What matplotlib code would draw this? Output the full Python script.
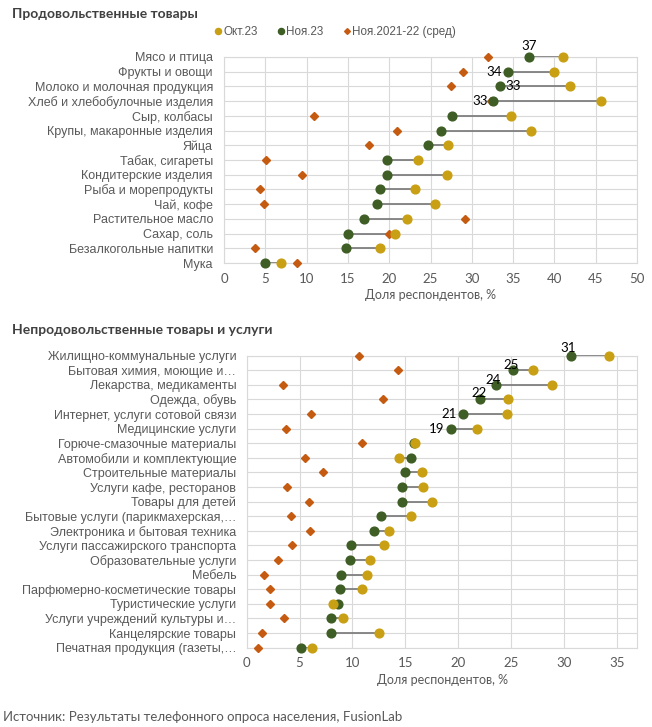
import numpy as np
import matplotlib.pyplot as plt

plt.rcParams['font.family'] = ['Liberation Sans', 'DejaVu Sans']

# Data - food
food_cats = ['Мясо и птица', 'Фрукты и овощи', 'Молоко и молочная продукция',
             'Хлеб и хлебобулочные изделия', 'Сыр, колбасы', 'Крупы, макаронные изделия',
             'Яйца', 'Табак, сигареты', 'Кондитерские изделия', 'Рыба и морепродукты',
             'Чай, кофе', 'Растительное масло', 'Сахар, соль', 'Безалкогольные напитки', 'Мука']
food_oct = [41.1, 40.0, 41.9, 45.6, 34.7, 37.2, 27.1, 23.5, 27.0, 23.1, 25.6, 22.1, 20.7, 18.9, 6.9]
food_nov = [36.9, 34.4, 33.4, 32.6, 27.6, 26.3, 24.7, 19.7, 19.7, 18.9, 18.5, 17.0, 15.0, 14.8, 5.0]
food_avg = [31.9, 28.9, 27.5, 32.3, 10.9, 20.9, 17.5, 5.1, 9.5, 4.3, 4.9, 29.2, 20.0, 3.8, 8.8]

# Data - non-food
nf_cats = ['Жилищно-коммунальные услуги', 'Бытовая химия, моющие и…', 'Лекарства, медикаменты',
           'Одежда, обувь', 'Интернет, услуги сотовой связи', 'Медицинские услуги',
           'Горюче-смазочные материалы', 'Автомобили и комплектующие', 'Строительные материалы',
           'Услуги кафе, ресторанов', 'Товары для детей', 'Бытовые услуги (парикмахерская,…',
           'Электроника и бытовая техника', 'Услуги пассажирского транспорта',
           'Образовательные услуги', 'Мебель', 'Парфюмерно-косметические товары',
           'Туристические услуги', 'Услуги учреждений культуры и…', 'Канцелярские товары',
           'Печатная продукция (газеты,…']
nf_oct = [34.3, 27.1, 28.9, 24.7, 24.6, 21.8, 15.9, 14.4, 16.6, 16.7, 17.5, 15.5, 13.5, 13.0,
          11.7, 11.4, 10.9, 8.2, 9.1, 12.5, 6.2]
nf_nov = [30.7, 25.2, 23.6, 22.1, 20.5, 19.3, 15.8, 15.5, 15.0, 14.7, 14.7, 12.7, 12.0, 9.9,
          9.8, 8.9, 8.8, 8.6, 8.0, 8.0, 5.1]
nf_avg = [10.6, 14.3, 3.4, 12.9, 6.1, 3.7, 10.9, 5.5, 7.2, 3.8, 5.9, 4.2, 6.0, 4.3, 3.0, 1.6,
          2.2, 2.2, 3.5, 1.4, 1.1]

# labels on Nov points: (row, text, dx px, dy px)
food_labels = [(0, '37', 0, 11), (1, '34', -14, 0), (2, '33', 13, 0), (3, '33', -13, 0)]
nf_labels = [(0, '31', -3, 8), (1, '25', -2, 5), (2, '24', -3, 5), (3, '22', -1, 6),
             (4, '21', -14, 0), (5, '19', -14, 0)]

c_oct = '#C9A014'
c_nov = '#3E5E25'
c_avg = '#C55A11'
grey = '#595959'
num_font = 'Lato'


def dumbbell(ax, cats, oct_v, nov_v, avg_v, xmax, step, labels, pad):
    y = np.arange(len(cats))
    ax.hlines(y, nov_v, oct_v, color='#7F7F7F', lw=1.3, zorder=2, clip_on=False)
    ax.plot(avg_v, y, 'D', color=c_avg, ms=4.2, ls='none', zorder=3, clip_on=False,
            label='Ноя.2021-22 (сред)')
    ax.plot(nov_v, y, 'o', color=c_nov, ms=6.3, ls='none', zorder=4, clip_on=False, label='Ноя.23')
    ax.plot(oct_v, y, 'o', color=c_oct, ms=6.3, ls='none', zorder=5, clip_on=False, label='Окт.23')
    for i, t, dx, dy in labels:
        ax.annotate(t, (nov_v[i], i), xytext=(dx, dy), textcoords='offset pixels',
                    ha='center', va='center', fontsize=9.5, family=num_font, zorder=6)
    ax.set_ylim(len(cats) - 1, 0)
    ax.set_yticks(y)
    ax.set_yticklabels(cats, fontsize=9, color=grey)
    ax.set_xlim(0, xmax)
    ax.set_xticks(np.arange(0, xmax + 0.1, step))
    for lab in ax.get_xticklabels():
        lab.set_family(num_font)
    ax.tick_params(axis='x', labelsize=9.5, colors=grey, length=0, pad=7)
    ax.tick_params(axis='y', length=0, pad=pad)
    ax.grid(True, color='#D9D9D9', lw=0.8)
    ax.set_axisbelow(True)
    for s in ax.spines.values():
        s.set_color('#D9D9D9')
        s.set_linewidth(0.8)
    ax.set_xlabel('Доля респондентов, %', fontsize=9, color=grey, family=num_font, labelpad=3)


fig = plt.figure(figsize=(6.52, 7.27), dpi=100)

ax1 = fig.add_axes([0.3436, 0.6382, 0.6334, 0.2834])
dumbbell(ax1, food_cats, food_oct, food_nov, food_avg, 50, 5, food_labels, 8)

ax2 = fig.add_axes([0.3784, 0.1091, 0.5991, 0.4017])
dumbbell(ax2, nf_cats, nf_oct, nf_nov, nf_avg, 36.95, 5, nf_labels, 7.5)

h, l = ax1.get_legend_handles_labels()
leg = fig.legend(h[::-1], l[::-1], loc='center', bbox_to_anchor=(0.514, 0.956), ncol=3,
                 frameon=False, fontsize=8.4, handlelength=0.6, handletextpad=0.15,
                 columnspacing=1.7, markerscale=0.7)
for t in leg.get_texts():
    t.set_color(grey)

fig.text(0.018, 0.981, 'Продовольственные товары', fontsize=10, fontweight='bold',
         color='#404040', family=num_font, va='center')
fig.text(0.018, 0.546, 'Непродовольственные товары и услуги', fontsize=10, fontweight='bold',
         color='#404040', family=num_font, va='center')
fig.text(0.005, 0.014, 'Источник: Результаты телефонного опроса населения, FusionLab',
         fontsize=9.5, color=grey, family=num_font, va='center')

fig.savefig('out.png', dpi=100)
